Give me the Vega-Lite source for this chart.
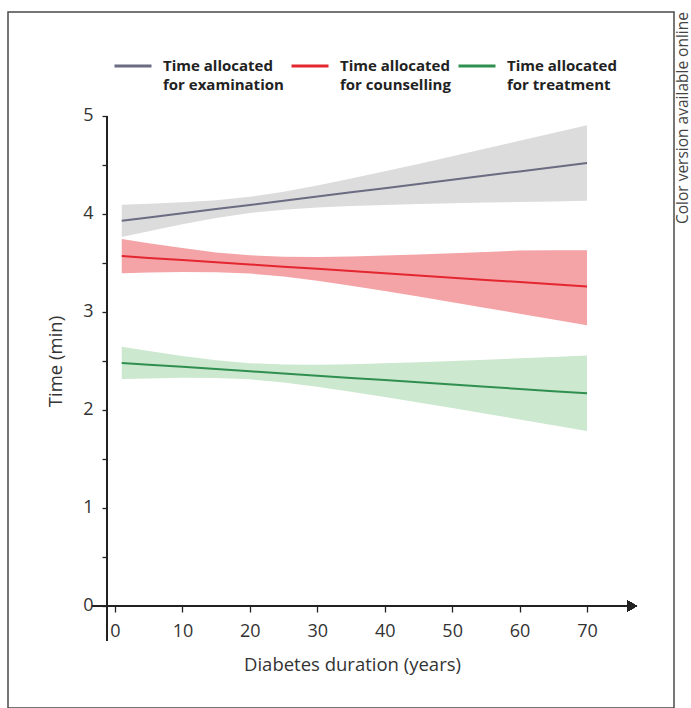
{
  "$schema": "https://vega.github.io/schema/vega-lite/v6.json",
  "width": 666,
  "height": 696,
  "autosize": {"type": "none"},
  "padding": {"left": 8, "top": 12, "right": 17, "bottom": 0},
  "background": "white",
  "config": {
    "view": {"stroke": "#4a4a4a", "strokeWidth": 1.5},
    "font": "Open Sans",
    "style": {"guide-label": {"lineHeight": 19}}
  },
  "title": {
    "text": "Color version available online",
    "orient": "right",
    "anchor": "start",
    "frame": "group",
    "angle": -90,
    "align": "right",
    "baseline": "middle",
    "fontSize": 15.5,
    "fontWeight": "normal",
    "font": "Open Sans",
    "color": "#444",
    "offset": -7
  },
  "data": {
    "values": [
      {"series": "examination", "x": 1, "lo": 3.765, "y": 3.930, "hi": 4.095},
      {"series": "examination", "x": 5, "lo": 3.824, "y": 3.964, "hi": 4.104},
      {"series": "examination", "x": 10, "lo": 3.895, "y": 4.007, "hi": 4.119},
      {"series": "examination", "x": 15, "lo": 3.959, "y": 4.050, "hi": 4.141},
      {"series": "examination", "x": 20, "lo": 4.010, "y": 4.092, "hi": 4.175},
      {"series": "examination", "x": 25, "lo": 4.044, "y": 4.135, "hi": 4.226},
      {"series": "examination", "x": 30, "lo": 4.066, "y": 4.178, "hi": 4.290},
      {"series": "examination", "x": 35, "lo": 4.081, "y": 4.221, "hi": 4.361},
      {"series": "examination", "x": 40, "lo": 4.091, "y": 4.263, "hi": 4.435},
      {"series": "examination", "x": 45, "lo": 4.101, "y": 4.306, "hi": 4.511},
      {"series": "examination", "x": 50, "lo": 4.109, "y": 4.349, "hi": 4.589},
      {"series": "examination", "x": 55, "lo": 4.116, "y": 4.392, "hi": 4.668},
      {"series": "examination", "x": 60, "lo": 4.122, "y": 4.434, "hi": 4.746},
      {"series": "examination", "x": 65, "lo": 4.128, "y": 4.477, "hi": 4.826},
      {"series": "examination", "x": 70, "lo": 4.135, "y": 4.520, "hi": 4.905},
      {"series": "counselling", "x": 1, "lo": 3.395, "y": 3.570, "hi": 3.745},
      {"series": "counselling", "x": 5, "lo": 3.402, "y": 3.552, "hi": 3.702},
      {"series": "counselling", "x": 10, "lo": 3.408, "y": 3.530, "hi": 3.652},
      {"series": "counselling", "x": 15, "lo": 3.406, "y": 3.507, "hi": 3.608},
      {"series": "counselling", "x": 20, "lo": 3.392, "y": 3.485, "hi": 3.578},
      {"series": "counselling", "x": 25, "lo": 3.361, "y": 3.462, "hi": 3.563},
      {"series": "counselling", "x": 30, "lo": 3.318, "y": 3.440, "hi": 3.562},
      {"series": "counselling", "x": 35, "lo": 3.267, "y": 3.417, "hi": 3.567},
      {"series": "counselling", "x": 40, "lo": 3.213, "y": 3.395, "hi": 3.577},
      {"series": "counselling", "x": 45, "lo": 3.157, "y": 3.372, "hi": 3.587},
      {"series": "counselling", "x": 50, "lo": 3.100, "y": 3.350, "hi": 3.600},
      {"series": "counselling", "x": 55, "lo": 3.041, "y": 3.327, "hi": 3.613},
      {"series": "counselling", "x": 60, "lo": 2.983, "y": 3.305, "hi": 3.627},
      {"series": "counselling", "x": 65, "lo": 2.923, "y": 3.282, "hi": 3.631},
      {"series": "counselling", "x": 70, "lo": 2.865, "y": 3.260, "hi": 3.630},
      {"series": "treatment", "x": 1, "lo": 2.315, "y": 2.480, "hi": 2.645},
      {"series": "treatment", "x": 5, "lo": 2.322, "y": 2.462, "hi": 2.602},
      {"series": "treatment", "x": 10, "lo": 2.328, "y": 2.440, "hi": 2.552},
      {"series": "treatment", "x": 15, "lo": 2.326, "y": 2.417, "hi": 2.508},
      {"series": "treatment", "x": 20, "lo": 2.313, "y": 2.395, "hi": 2.478},
      {"series": "treatment", "x": 25, "lo": 2.281, "y": 2.372, "hi": 2.463},
      {"series": "treatment", "x": 30, "lo": 2.238, "y": 2.350, "hi": 2.462},
      {"series": "treatment", "x": 35, "lo": 2.187, "y": 2.327, "hi": 2.467},
      {"series": "treatment", "x": 40, "lo": 2.133, "y": 2.305, "hi": 2.477},
      {"series": "treatment", "x": 45, "lo": 2.077, "y": 2.282, "hi": 2.487},
      {"series": "treatment", "x": 50, "lo": 2.020, "y": 2.260, "hi": 2.500},
      {"series": "treatment", "x": 55, "lo": 1.961, "y": 2.237, "hi": 2.513},
      {"series": "treatment", "x": 60, "lo": 1.903, "y": 2.215, "hi": 2.527},
      {"series": "treatment", "x": 65, "lo": 1.843, "y": 2.192, "hi": 2.541},
      {"series": "treatment", "x": 70, "lo": 1.785, "y": 2.170, "hi": 2.555}
    ]
  },
  "layer": [
    {
      "transform": [{"filter": "datum.series === 'examination'"}],
      "mark": {"type": "area", "color": "#dcdcdc", "opacity": 1},
      "encoding": {
        "x": {
          "field": "x", "type": "quantitative",
          "scale": {"domain": [-15.87, 82.9], "nice": false, "zero": false},
          "axis": {
            "title": "Diabetes duration (years)",
            "orient": "bottom", "offset": -102, "domain": false, "grid": false,
            "values": [0, 10, 20, 30, 40, 50, 60, 70],
            "tickSize": 6, "tickColor": "#222", "tickWidth": 1.3,
            "labelFontSize": 18, "labelColor": "#333", "labelPadding": 10, "labelFont": "Open Sans", "labelFlush": false,
            "titleFont": "Open Sans", "titleFontSize": 18.5, "titleFontWeight": "normal", "titleColor": "#333",
            "titleX": 344, "titleY": 58, "titleAlign": "center", "titleBaseline": "middle"
          }
        },
        "y": {
          "field": "lo", "type": "quantitative",
          "scale": {"domain": [-1.041, 6.061], "nice": false, "zero": false},
          "axis": {
            "title": "Time (min)",
            "orient": "left", "offset": -99, "domain": false, "grid": false,
            "values": [0, 0.5, 1, 1.5, 2, 2.5, 3, 3.5, 4, 4.5, 5],
            "labelExpr": "datum.value % 1 === 0 ? (format(datum.value, 'd') + (datum.value === 0 ? '   ' : '')) : ''",
            "tickSize": 5, "tickColor": "#222", "tickWidth": 1.3,
            "labelFontSize": 18, "labelColor": "#333", "labelPadding": 9, "labelFont": "Open Sans",
            "titleFont": "Open Sans", "titleFontSize": 18.5, "titleFontWeight": "normal", "titleColor": "#333",
            "titleX": -52, "titleY": 349, "titleAngle": -90, "titleAlign": "center", "titleBaseline": "middle"
          }
        },
        "y2": {"field": "hi"}
      }
    },
    {
      "transform": [{"filter": "datum.series === 'counselling'"}],
      "mark": {"type": "area", "color": "#f4a3a6", "opacity": 1},
      "encoding": {
        "x": {"field": "x", "type": "quantitative"},
        "y": {"field": "lo", "type": "quantitative"},
        "y2": {"field": "hi"}
      }
    },
    {
      "transform": [{"filter": "datum.series === 'treatment'"}],
      "mark": {"type": "area", "color": "#cce8cf", "opacity": 1},
      "encoding": {
        "x": {"field": "x", "type": "quantitative"},
        "y": {"field": "lo", "type": "quantitative"},
        "y2": {"field": "hi"}
      }
    },
    {
      "mark": {"type": "line", "strokeWidth": 2},
      "encoding": {
        "x": {"field": "x", "type": "quantitative", "title": "Diabetes duration (years)"},
        "y": {"field": "y", "type": "quantitative", "title": "Time (min)"},
        "stroke": {
          "field": "series", "type": "nominal",
          "scale": {"domain": ["examination", "counselling", "treatment"], "range": ["#6b6b82", "#e3262f", "#2f8f4e"]},
          "legend": {
            "orient": "none", "legendX": 105, "legendY": 34, "direction": "horizontal",
            "title": null, "padding": 0,
            "symbolType": "stroke", "symbolSize": 1369, "symbolStrokeWidth": 3,
            "labelOffset": 10, "columnPadding": 1,
            "labelFont": "Open Sans", "labelFontSize": 15, "labelFontWeight": "bold", "labelColor": "#222",
            "labelLimit": 400,
            "labelExpr": "['Time allocated', 'for ' + datum.label]"
          }
        }
      }
    },
    {
      "mark": {"type": "rule", "color": "#222", "strokeWidth": 1.5},
      "encoding": {
        "x": {"datum": -1.19, "type": "quantitative"},
        "y": {"datum": -0.35, "type": "quantitative"},
        "y2": {"datum": 5}
      }
    },
    {
      "mark": {"type": "rule", "color": "#222", "strokeWidth": 1.5},
      "encoding": {
        "x": {"datum": -3.4, "type": "quantitative"},
        "x2": {"datum": 76},
        "y": {"datum": 0, "type": "quantitative"}
      }
    },
    {
      "mark": {"type": "point", "shape": "triangle-right", "filled": true, "color": "#222", "size": 110, "opacity": 1},
      "encoding": {
        "x": {"datum": 76.7, "type": "quantitative"},
        "y": {"datum": 0, "type": "quantitative"}
      }
    }
  ]
}
